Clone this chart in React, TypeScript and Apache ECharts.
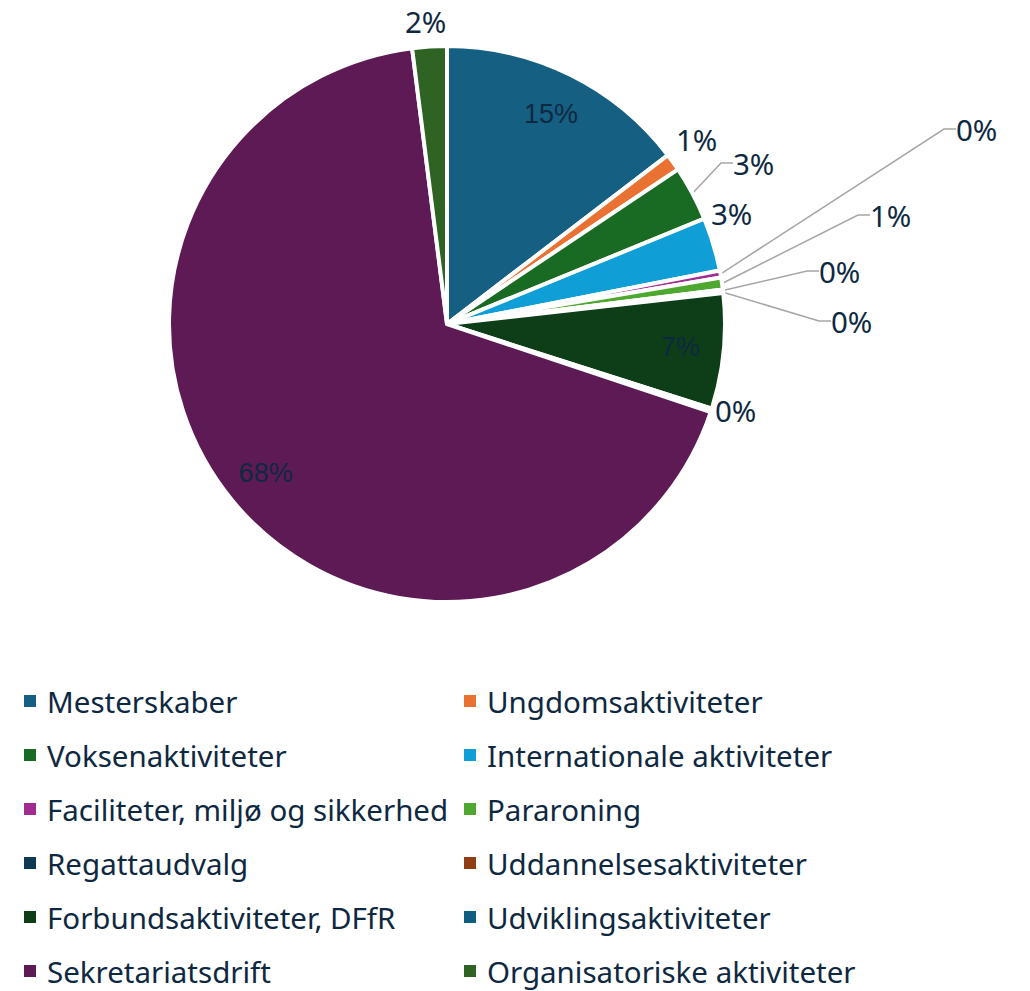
import React, { useEffect, useRef } from 'react';
import * as echarts from 'echarts';

// ---- data ----
const categories = [
  'Mesterskaber',
  'Ungdomsaktiviteter',
  'Voksenaktiviteter',
  'Internationale aktiviteter',
  'Faciliteter, miljø og sikkerhed',
  'Pararoning',
  'Regattaudvalg',
  'Uddannelsesaktiviteter',
  'Forbundsaktiviteter, DFfR',
  'Udviklingsaktiviteter',
  'Sekretariatsdrift',
  'Organisatoriske aktiviteter',
];
const shares = [14.6, 1.0, 3.2, 3.1, 0.4, 0.7, 0.1, 0.1, 6.7, 0.2, 67.8, 2.0];
const colors = [
  '#156082', '#E97132', '#196B24', '#0F9ED5', '#A02B93', '#4EA72E',
  '#0D3A52', '#8F3E14', '#0E3E17', '#0F5E80', '#5E1A55', '#2E6323',
];

// ---- layout config ----
const CX = 447;
const CY = 324;
const R = 278;
const INSIDE_RATIO = 0.85;
const TEXT = '#0E2841';
// label mode per slice
const LABEL_MODE = ['inside', 'plain', 'line', 'plain', 'line', 'line', 'line', 'line', 'inside', 'plain', 'inside', 'plain'];
// outside label positions (left edge, vertical middle)
const OUTSIDE_POS: Record<number, [number, number]> = {
  1: [676, 139],
  2: [733, 163],
  3: [711, 213],
  4: [956, 129],
  5: [870, 215],
  6: [819, 271],
  7: [831, 321],
  9: [715, 410],
  11: [405, 21],
};

export default function App() {
  const ref = useRef<HTMLDivElement>(null);
  useEffect(() => {
    if (!ref.current) return;
    const chart = echarts.init(ref.current, undefined, { renderer: 'svg' });
    const total = shares.reduce((a, b) => a + b, 0);
    let acc = 0;
    const mids = shares.map((v) => {
      const m = ((acc + v / 2) / total) * Math.PI * 2;
      acc += v;
      return m;
    });
    const visR = R - 2;
    const data = categories.map((name, i) => {
      const mode = LABEL_MODE[i];
      return {
        name,
        value: shares[i],
        label:
          mode === 'inside'
            ? { position: 'inside', fontFamily: 'Liberation Sans', fontSize: 27 }
            : { position: 'outside' },
        labelLine: { show: mode === 'line' },
      };
    });
    const leftNames = categories.filter((_, i) => i % 2 === 0);
    const rightNames = categories.filter((_, i) => i % 2 === 1);
    const legendBase = {
      orient: 'vertical',
      top: 686,
      height: 305,
      padding: 0,
      itemWidth: 14,
      itemHeight: 14,
      itemGap: 24,
      icon: 'rect',
      selectedMode: false,
      textStyle: {
        color: TEXT,
        fontSize: 29.5,
        fontFamily: 'Noto Sans',
        lineHeight: 30,
        padding: [0, 0, 0, 5],
      },
    };
    chart.setOption({
      animation: false,
      color: colors,
      legend: [
        { ...legendBase, left: 22, data: leftNames },
        { ...legendBase, left: 462, data: rightNames },
      ],
      series: [
        {
          type: 'pie',
          center: [CX, CY],
          radius: R,
          startAngle: 90,
          clockwise: true,
          avoidLabelOverlap: false,
          itemStyle: { borderColor: '#ffffff', borderWidth: 4 },
          label: {
            color: TEXT,
            fontSize: 29.5,
            fontFamily: 'Noto Sans',
            formatter: (p: any) => Math.round(p.percent) + '%',
          },
          labelLine: {
            length: 15,
            length2: 12,
            lineStyle: { color: '#A6A6A6', width: 1.5 },
          },
          labelLayout: (params: any) => {
            const i = params.dataIndex;
            if (LABEL_MODE[i] === 'inside') {
              const m = mids[i];
              return {
                x: CX + visR * INSIDE_RATIO * Math.sin(m),
                y: CY - visR * INSIDE_RATIO * Math.cos(m),
                align: 'center',
                verticalAlign: 'middle',
              };
            }
            const p = OUTSIDE_POS[i];
            return { x: p[0], y: p[1], align: 'left', verticalAlign: 'middle' };
          },
          data,
        },
      ],
    });
    return () => chart.dispose();
  }, []);
  return (
    <div
      ref={ref}
      style={{ position: 'absolute', left: 0, top: 0, width: 1030, height: 991, background: '#ffffff' }}
    />
  );
}
